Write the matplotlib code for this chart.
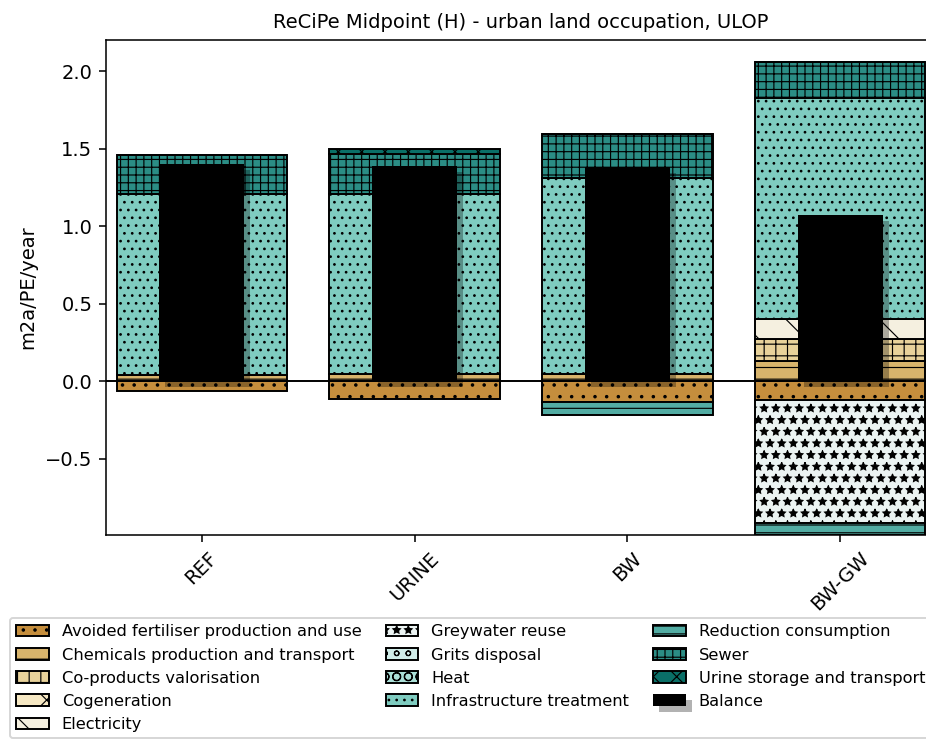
import matplotlib
matplotlib.use("Agg")
import matplotlib.pyplot as plt
import matplotlib.patheffects as pe
import numpy as np

scenarios = ["REF", "URINE", "BW", "BW-GW"]

categories = [
    "Avoided fertiliser production and use",
    "Chemicals production and transport",
    "Co-products valorisation",
    "Cogeneration",
    "Electricity",
    "Greywater reuse",
    "Grits disposal",
    "Heat",
    "Infrastructure treatment",
    "Reduction consumption",
    "Sewer",
    "Urine storage and transport",
]

# m2a/PE/year, one list per category (REF, URINE, BW, BW-GW)
avoided_fert = [-0.06, -0.115, -0.13, -0.12]
chemicals = [0.04, 0.045, 0.05, 0.13]
coproducts = [0.0, 0.0, 0.0, 0.145]
cogeneration = [0.0, 0.0, 0.0, 0.0]
electricity = [0.0, 0.0, 0.0, 0.125]
greywater = [0.0, 0.0, 0.0, -0.79]
grits = [0.0, 0.0, 0.0, 0.0]
heat = [0.0, 0.0, 0.0, 0.0]
infrastructure = [1.17, 1.165, 1.26, 1.426]
reduction = [0.0, 0.0, -0.085, -0.08]
sewer = [0.25, 0.255, 0.285, 0.234]
urine_storage = [0.0, 0.035, 0.0, 0.0]

values = [avoided_fert, chemicals, coproducts, cogeneration, electricity,
          greywater, grits, heat, infrastructure, reduction, sewer, urine_storage]

hatches = ["..", "--", "++", "x", "\\", "**", "oo", "OO", "...", "---", "+++", "xx"]
colors = plt.cm.BrBG(np.linspace(0.22, 0.88, len(categories)))

plt.rcParams["hatch.linewidth"] = 0.6

fig = plt.figure(figsize=(926 / 140, 740 / 140), dpi=140)
ax = fig.add_axes([0.1145, 0.277, 0.8963, 0.6689])

x = np.arange(len(scenarios))
pos = np.zeros(len(scenarios))
neg = np.zeros(len(scenarios))

for name, vals, col, h in zip(categories, values, colors, hatches):
    vals = np.array(vals)
    bottom = np.where(vals < 0, neg, pos)
    ax.bar(x, vals, 0.8, bottom=bottom, color=col, edgecolor="k",
           linewidth=1, hatch=h, label=name)
    pos = pos + np.where(vals > 0, vals, 0)
    neg = neg + np.where(vals < 0, vals, 0)

balance = pos + neg
ax.bar(x, balance, 0.4, color="k", label="Balance", zorder=3,
       path_effects=[pe.SimplePatchShadow(offset=(3, -3)), pe.Normal()])

ax.axhline(0, color="k", linewidth=1, zorder=1)

ax.set_xlim(-0.45, 3.45)
ax.set_ylim(-0.99, 2.2)
ax.set_xticks(x)
ax.set_xticklabels(scenarios, rotation=45)
ax.set_ylabel("m2a/PE/year")
ax.set_title("ReCiPe Midpoint (H) - urban land occupation, ULOP", fontsize=10)

handles, labels = ax.get_legend_handles_labels()
fig.legend(handles, labels, loc="upper left", bbox_to_anchor=(0.0108, 0.1649),
           borderaxespad=0, ncol=3, fontsize="small", columnspacing=1.5)

fig.savefig("out.png", dpi=140)
